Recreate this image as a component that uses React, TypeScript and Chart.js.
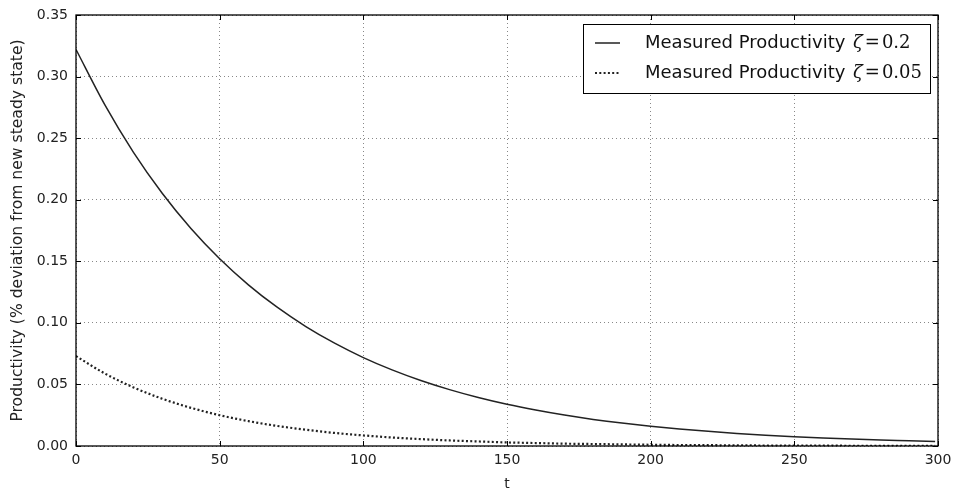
import React, { useEffect, useRef } from "react";
import { Chart, registerables } from "chart.js";

Chart.register(...registerables);

const tValues = [0, 10, 20, 30, 40, 50, 60, 70, 80, 90, 100, 110, 120, 130, 140, 150, 160, 170, 180, 190, 200, 210, 220, 230, 240, 250, 260, 270, 280, 290, 299];
const productivityZeta02 = [0.322, 0.2772, 0.2385, 0.2053, 0.1767, 0.1521, 0.1309, 0.1127, 0.097, 0.0835, 0.0718, 0.0618, 0.0532, 0.0458, 0.0394, 0.0339, 0.0292, 0.0251, 0.0216, 0.0186, 0.016, 0.0138, 0.0119, 0.0102, 0.0088, 0.0076, 0.0065, 0.0056, 0.0048, 0.0042, 0.0036];
const productivityZeta005 = [0.073, 0.0589, 0.0476, 0.0384, 0.031, 0.025, 0.0202, 0.0163, 0.0132, 0.0106, 0.0086, 0.0069, 0.0056, 0.0045, 0.0037, 0.0029, 0.0024, 0.0019, 0.0016, 0.0013, 0.001, 0.0008, 0.0007, 0.0005, 0.0004, 0.0003, 0.0003, 0.0002, 0.0002, 0.0001, 0.0001];
const seriesLabels = ["Measured Productivity ", "Measured Productivity "];
const seriesZeta = ["0.2", "0.05"];
const xTicks = [0, 50, 100, 150, 200, 250, 300];
const yTicks = [0, 0.05, 0.1, 0.15, 0.2, 0.25, 0.3, 0.35];

const SANS = "'DejaVu Sans', sans-serif";
const SERIF = "'DejaVu Serif', serif";

const frameAndLegend = {
  id: "frameAndLegend",
  afterDraw(chart: any) {
    const ctx = chart.ctx;
    const a = chart.chartArea;
    const xs = chart.scales.x;
    const ys = chart.scales.y;
    ctx.save();
    // inward ticks
    ctx.strokeStyle = "#000";
    ctx.lineWidth = 1;
    ctx.beginPath();
    xTicks.forEach((v) => {
      const px = Math.round(xs.getPixelForValue(v)) + 0.5;
      ctx.moveTo(px, a.bottom);
      ctx.lineTo(px, a.bottom - 5);
      ctx.moveTo(px, a.top);
      ctx.lineTo(px, a.top + 5);
    });
    yTicks.forEach((v) => {
      const py = Math.round(ys.getPixelForValue(v)) + 0.5;
      ctx.moveTo(a.left, py);
      ctx.lineTo(a.left + 5, py);
      ctx.moveTo(a.right, py);
      ctx.lineTo(a.right - 5, py);
    });
    ctx.stroke();
    // frame
    ctx.lineWidth = 1.3;
    ctx.strokeRect(a.left, a.top, a.right - a.left, a.bottom - a.top);

    // legend
    const bx = a.right - 355;
    const by = a.top + 9;
    const bw = 347;
    const bh = 69;
    ctx.fillStyle = "#fff";
    ctx.fillRect(bx, by, bw, bh);
    ctx.strokeStyle = "#000";
    ctx.lineWidth = 1;
    ctx.strokeRect(bx + 0.5, by + 0.5, bw, bh);
    chart.data.datasets.forEach((ds: any, i: number) => {
      const ly = by + 19 + i * 30;
      ctx.beginPath();
      ctx.strokeStyle = ds.borderColor;
      ctx.lineWidth = ds.borderWidth;
      ctx.setLineDash(ds.borderDash || []);
      ctx.moveTo(bx + 12, ly);
      ctx.lineTo(bx + 37, ly);
      ctx.stroke();
      ctx.setLineDash([]);
      ctx.fillStyle = "#111";
      ctx.textBaseline = "middle";
      ctx.font = `18px ${SANS}`;
      let tx = bx + 62;
      ctx.fillText(seriesLabels[i], tx, ly);
      tx += ctx.measureText(seriesLabels[i]).width + 2;
      ctx.font = `italic 18px ${SERIF}`;
      ctx.fillText("\u03B6", tx, ly);
      tx += ctx.measureText("\u03B6").width + 2;
      ctx.font = `18px ${SERIF}`;
      ctx.fillText("=", tx, ly);
      tx += ctx.measureText("=").width + 2;
      ctx.fillText(seriesZeta[i], tx, ly);
    });
    ctx.restore();
  },
};

export default function App() {
  const ref = useRef<HTMLCanvasElement>(null);
  useEffect(() => {
    if (!ref.current) return;
    const chart = new Chart(ref.current, {
      type: "line",
      data: {
        datasets: [
          {
            label: seriesLabels[0] + "\u03B6=" + seriesZeta[0],
            data: tValues.map((t, i) => ({ x: t, y: productivityZeta02[i] })),
            borderColor: "#222",
            borderWidth: 1.5,
            pointRadius: 0,
            cubicInterpolationMode: "monotone",
            fill: false,
          },
          {
            label: seriesLabels[1] + "\u03B6=" + seriesZeta[1],
            data: tValues.map((t, i) => ({ x: t, y: productivityZeta005[i] })),
            borderColor: "#222",
            borderWidth: 2.2,
            borderDash: [2, 2.3],
            pointRadius: 0,
            cubicInterpolationMode: "monotone",
            fill: false,
          },
        ],
      },
      options: {
        animation: false,
        responsive: false,
        maintainAspectRatio: false,
        layout: { padding: { top: 15, right: 16, left: 0, bottom: 0 } },
        plugins: { legend: { display: false }, tooltip: { enabled: false } },
        scales: {
          x: {
            type: "linear",
            min: 0,
            max: 300,
            afterBuildTicks: (s: any) => {
              s.ticks = xTicks.map((v) => ({ value: v }));
            },
            afterFit: (s: any) => {
              s.height = 47;
              s.paddingLeft = 0;
              s.paddingRight = 0;
            },
            grid: { color: "#888", lineWidth: 1, borderDash: [1, 3], drawTicks: false },
            border: { display: false, dash: [1, 3] },
            ticks: { color: "#222", font: { family: SANS, size: 14 }, padding: 6, maxRotation: 0 },
            title: { display: true, text: "t", color: "#222", font: { family: SANS, size: 14 }, padding: { top: 2, bottom: 0 } },
          },
          y: {
            type: "linear",
            min: 0,
            max: 0.35,
            afterBuildTicks: (s: any) => {
              s.ticks = yTicks.map((v) => ({ value: v }));
            },
            afterFit: (s: any) => {
              s.width = 76;
              s.paddingTop = 0;
              s.paddingBottom = 0;
            },
            grid: { color: "#888", lineWidth: 1, borderDash: [1, 3], drawTicks: false },
            border: { display: false, dash: [1, 3] },
            ticks: {
              color: "#222",
              font: { family: SANS, size: 14 },
              padding: 8,
              callback: (v: any) => Number(v).toFixed(2),
            },
            title: {
              display: true,
              text: "Productivity (% deviation from new steady state)",
              color: "#222",
              font: { family: SANS, size: 15.6 },
              padding: { top: 9, bottom: 4 },
            },
          },
        },
      } as any,
      plugins: [frameAndLegend],
    });
    return () => chart.destroy();
  }, []);
  return (
    <div style={{ position: "fixed", left: 0, top: 0, width: 954, height: 493, background: "#fff" }}>
      <canvas ref={ref} width={954} height={493} />
    </div>
  );
}
